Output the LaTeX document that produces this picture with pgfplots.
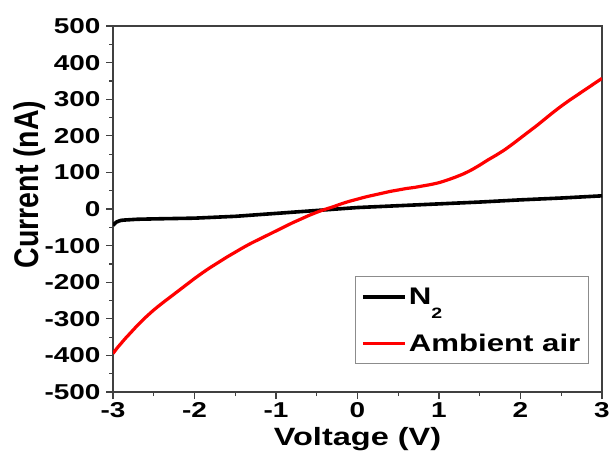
\documentclass[border=0pt]{standalone}
\usepackage{fontspec}
\usepackage{graphicx}
\setmainfont{Liberation Sans}[FakeStretch=1.3]
\newfontfamily\plainsans{Liberation Sans}
\usepackage{pgfplots}
\pgfplotsset{compat=1.18}
\definecolor{axgray}{HTML}{404040}

\begin{document}
\begin{tikzpicture}
\begin{axis}[
  name=ax,
  scale only axis,
  width=489pt, height=366pt,
  xmin=-3, xmax=3, ymin=-500, ymax=500,
  xtick={-3,-2,-1,0,1,2,3},
  ytick={-500,-400,-300,-200,-100,0,100,200,300,400,500},
  minor x tick num=1, minor y tick num=1,
  tick align=outside, tick pos=left,
  major tick length=7pt, minor tick length=4pt,
  axis line style={line width=1.2pt, axgray},
  every tick/.style={line width=1.2pt, axgray},
  /pgf/number format/assume math mode=true,
  tick label style={font=\fontsize{21.5}{25}\selectfont\bfseries},
  yticklabel style={xshift=-2pt},
  xlabel={Voltage (V)},
  xlabel style={font=\fontsize{25}{28}\selectfont\bfseries,
    at={(axis description cs:0.5,-0.147)}, anchor=base},
  ylabel={\scalebox{1}[1.2]{\plainsans\bfseries\fontsize{28.5}{30}\selectfont Current (nA)}},
  ylabel style={at={(axis description cs:-0.152,0.567)}, anchor=base},
  legend style={at={(0.973,0.0765)}, anchor=south east,
    draw=black!45, line width=0.8pt,
    font=\fontsize{24}{28}\selectfont\bfseries,
    inner xsep=6pt, inner ysep=9pt, row sep=24pt},
  legend cell align=left,
  legend image code/.code={\draw[#1] (0pt,0pt) -- (42pt,0pt);},
]
\addplot[black, line width=3.6pt] coordinates {
(-3.00,-45) (-2.98,-40) (-2.96,-36) (-2.93,-33) (-2.90,-31) (-2.85,-30)
(-2.70,-28) (-2.50,-27) (-2.00,-25) (-1.50,-20) (-1.00,-12) (-0.50,-4)
(0.00,4) (0.50,9) (1.00,14) (1.50,19) (2.00,25) (2.50,30) (3.00,36)
};
\addlegendentry{N\raisebox{-14pt}{\fontsize{15}{15}\selectfont 2}}
\addplot[red, line width=3.2pt, smooth, tension=0.4] coordinates {
(-3.00,-395) (-2.95,-380) (-2.90,-367) (-2.85,-354) (-2.80,-342)
(-2.70,-318) (-2.60,-296) (-2.50,-276) (-2.40,-258) (-2.30,-241)
(-2.20,-224) (-2.10,-207) (-2.00,-190) (-1.90,-174) (-1.80,-159)
(-1.70,-145) (-1.60,-131) (-1.50,-118) (-1.40,-105) (-1.30,-93)
(-1.20,-82) (-1.10,-71) (-1.00,-60) (-0.90,-49) (-0.80,-38)
(-0.70,-28) (-0.60,-18) (-0.50,-9) (-0.40,-1) (-0.30,6)
(-0.20,14) (-0.10,21) (0.00,27) (0.10,33) (0.20,38)
(0.30,43) (0.40,48) (0.50,52) (0.60,56) (0.70,59)
(0.80,63) (0.90,67) (1.00,72) (1.10,79) (1.20,87)
(1.30,96) (1.40,107) (1.50,120) (1.60,134) (1.70,147)
(1.80,161) (1.90,177) (2.00,194) (2.10,211) (2.20,228)
(2.30,246) (2.40,264) (2.50,281) (2.60,297) (2.70,312)
(2.80,327) (2.90,342) (3.00,357)
};
\addlegendentry{Ambient air}
\end{axis}
\pgfresetboundingbox
\path ([shift={(-113pt,-69pt)}]ax.south west) rectangle ([shift={(11pt,26pt)}]ax.north east);
\end{tikzpicture}
\end{document}
